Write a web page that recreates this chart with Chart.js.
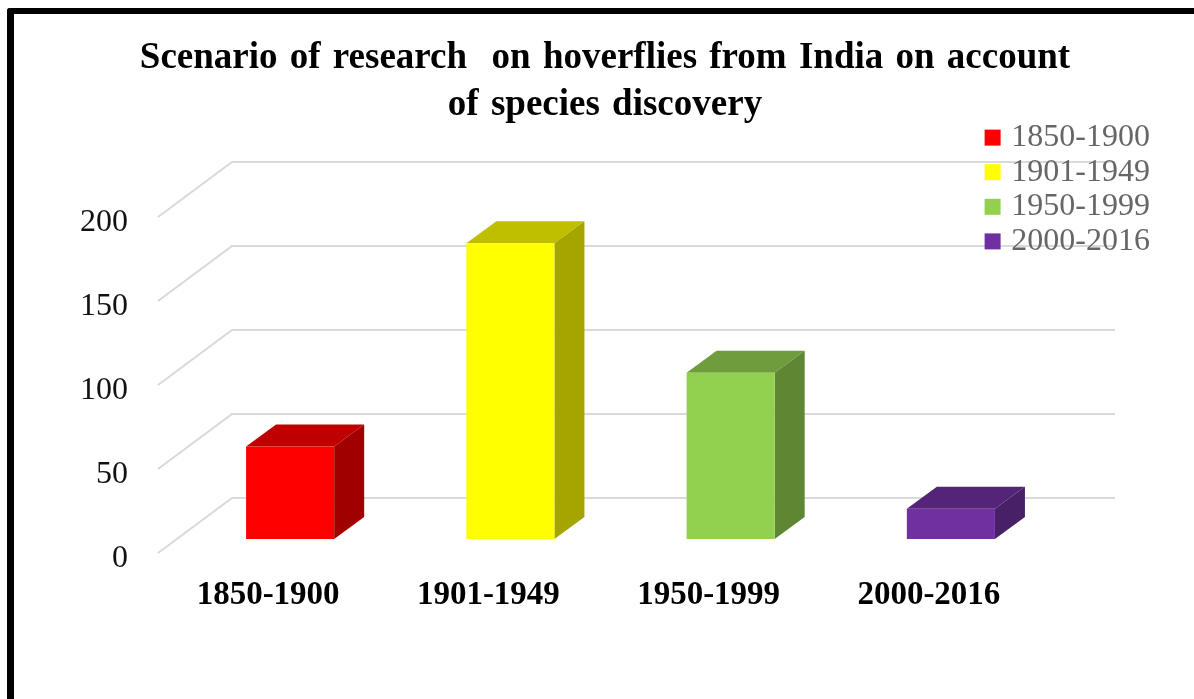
<!DOCTYPE html>
<html><head><meta charset="utf-8">
<script src="https://cdn.jsdelivr.net/npm/chart.js@4"></script>
<style>
html,body{margin:0;padding:0;background:#fff;overflow:hidden}
#wrap{position:relative;width:1194px;height:699px}
#frame{position:absolute;left:7px;top:8px;right:0;bottom:0;border-left:7px solid #000;border-top:6px solid #000;border-top-left-radius:3px;pointer-events:none}
canvas{position:absolute;left:0;top:0}
</style></head><body>
<div id="wrap"><canvas id="c" width="1194" height="699"></canvas><div id="frame"></div></div>
<script>
const categories = ['1850-1900','1901-1949','1950-1999','2000-2016'];
const speciesCounts = [55, 176, 99, 18];
const yTicks = [0, 50, 100, 150, 200];
const titleLines = ['Scenario of research  on hoverflies from India on account','of species discovery'];
const frontColors = ['#ff0000','#ffff00','#92d050','#7030a0'];
const topColors = ['#bf0000','#bfbf00','#6f9c3d','#542478'];
const sideColors = ['#a00000','#a5a500','#5f8733','#482068'];

const serif = '"Liberation Serif","Times New Roman",serif';
const depth = {barX:30, barY:22, wallX:52, wallY:41, frontX:22, frontY:14, wallRight:54};

const wall3d = {
  id:'wall3d',
  beforeDraw(chart){
    const {ctx, chartArea:a, scales:{y}} = chart;
    ctx.save();
    ctx.strokeStyle='#d9d9d9'; ctx.lineWidth=2;
    y.ticks.forEach(t=>{
      const p=y.getPixelForValue(t.value);
      ctx.beginPath();
      ctx.moveTo(a.left-depth.frontX,p+depth.frontY);
      ctx.lineTo(a.left+depth.wallX,p-depth.wallY);
      ctx.lineTo(a.right+depth.wallRight,p-depth.wallY);
      ctx.stroke();
    });
    ctx.restore();
  },
  beforeDatasetsDraw(chart){
    const ctx=chart.ctx, meta=chart.getDatasetMeta(0);
    meta.data.forEach((bar,i)=>{
      const {x,y,base,width}=bar.getProps(['x','y','base','width'],true);
      const l=x-width/2, r=x+width/2;
      ctx.save();
      ctx.fillStyle=topColors[i];
      ctx.beginPath();
      ctx.moveTo(l,y);ctx.lineTo(l+depth.barX,y-depth.barY);ctx.lineTo(r+depth.barX,y-depth.barY);ctx.lineTo(r,y);ctx.closePath();ctx.fill();
      ctx.fillStyle=sideColors[i];
      ctx.beginPath();
      ctx.moveTo(r,y);ctx.lineTo(r+depth.barX,y-depth.barY);ctx.lineTo(r+depth.barX,base-depth.barY);ctx.lineTo(r,base);ctx.closePath();ctx.fill();
      ctx.restore();
    });
  },
  afterLayout(chart){
    const l=chart.legend;
    l.left=982; l.right=1150; l.top=119; l.bottom=263;
    l.width=l.right-l.left; l.height=l.bottom-l.top;
    const t=chart.titleBlock;
    if(!t._spaced){
      const d=t.draw;
      t.draw=function(){
        const c=this.ctx;
        c.wordSpacing='3px';
        d.call(this);
        c.wordSpacing='0px';
      };
      t._spaced=true;
    }
  }
};

new Chart(document.getElementById('c'),{
  type:'bar',
  data:{labels:categories,datasets:[{label:'Species discovered',data:speciesCounts,backgroundColor:frontColors,borderWidth:0,barPercentage:0.4,categoryPercentage:1}]},
  plugins:[wall3d],
  options:{
    responsive:false,animation:false,
    layout:{padding:{left:16,right:0,top:0,bottom:0}},
    plugins:{
      tooltip:{enabled:false},
      title:{display:true,text:titleLines,color:'#000',font:{family:serif,size:37,weight:'bold',lineHeight:47/37},padding:{top:35,bottom:74}},
      legend:{
        position:'chartArea',align:'start',
        labels:{
          font:{family:serif,size:32},color:'#666',boxWidth:16,boxHeight:16,padding:2.6,textAlign:'right',
          generateLabels:()=>categories.map((c,i)=>({text:c,fillStyle:frontColors[i],strokeStyle:frontColors[i],lineWidth:0,hidden:false,index:i,fontColor:'#666'}))
        }
      }
    },
    scales:{
      x:{
        grid:{display:false},border:{display:false},
        afterFit(s){s.height=160;},
        ticks:{autoSkip:false,maxRotation:0,padding:29,labelOffset:-22,color:'#000',font:{family:serif,size:33,weight:'bold'}}
      },
      y:{
        min:0,max:200,
        grid:{display:false},border:{display:false},
        afterFit(s){s.width=164;},
        afterBuildTicks(s){s.ticks=yTicks.map(v=>({value:v}));},
        ticks:{padding:44,labelOffset:20,color:'#111',font:{family:serif,size:32}}
      },
      spacer:{
        type:'linear',position:'right',
        grid:{display:false},border:{display:false},
        ticks:{display:false},
        afterFit(s){s.width=133;}
      }
    }
  }
});
</script>
</body></html>
